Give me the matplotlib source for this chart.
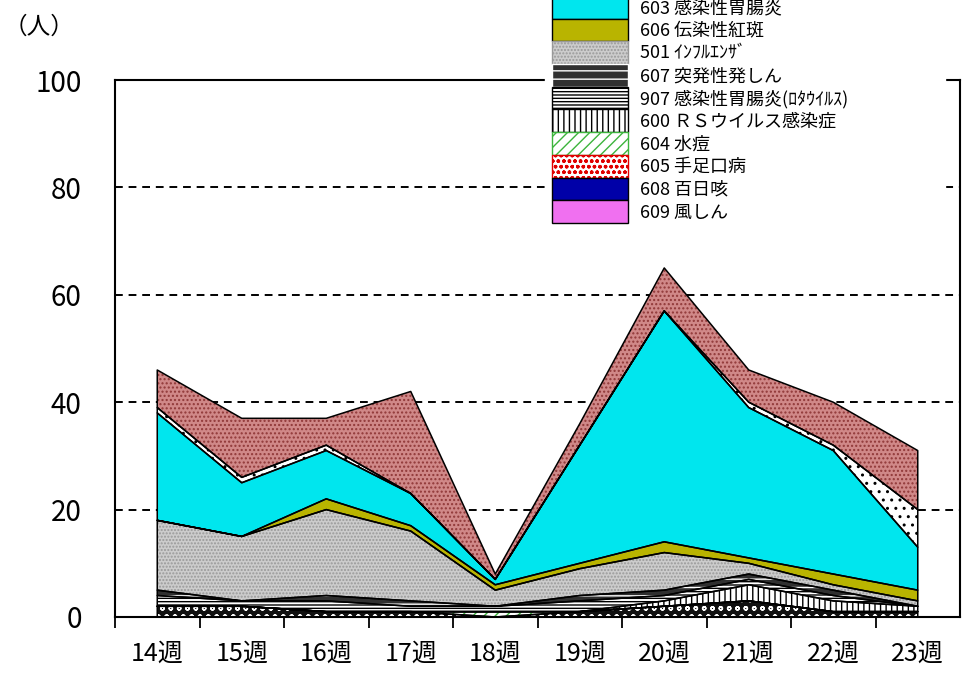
import numpy as np
import matplotlib.pyplot as plt
from matplotlib.patches import Patch

plt.rcParams['font.family'] = ['Noto Sans CJK JP', 'DejaVu Sans']
plt.rcParams['hatch.linewidth'] = 1.0

# 週ごとの報告数（人）
weeks = ['14週', '15週', '16週', '17週', '18週', '19週', '20週', '21週', '22週', '23週']

s609 = [0, 0, 0, 0, 0, 0, 0, 0, 0, 0]          # 風しん
s608 = [0, 0, 0, 0, 0, 0, 0, 0, 0, 0]          # 百日咳
s605 = [2, 2, 1, 1, 0, 1, 2, 3, 1, 1]          # 手足口病
s604 = [0, 0, 0, 0, 1, 0, 0, 0, 0, 0]          # 水痘
s600 = [0, 0, 0, 0, 0, 0, 1, 3, 2, 1]          # RSウイルス感染症
s907 = [2, 1, 2, 1, 1, 2, 1, 1, 1, 0]          # 感染性胃腸炎(ロタ)
s607 = [1, 0, 1, 1, 0, 1, 1, 1, 1, 0]          # 突発性発しん
s501 = [13, 12, 16, 13, 3, 5, 7, 2, 1, 1]      # インフルエンザ
s606 = [0, 0, 2, 1, 1, 1, 2, 1, 2, 2]          # 伝染性紅斑
s603 = [20, 10, 9, 6, 1, 22, 43, 28, 23, 8]    # 感染性胃腸炎
s610 = [1, 1, 1, 0, 0, 0, 0, 1, 1, 7]          # 凡例の見えない系列（白地に点）
s602 = [7, 11, 5, 19, 1, 4, 8, 6, 8, 11]       # 凡例の見えない系列（赤茶）

# 下から積み上げる順 (名前, 値, 塗り, ハッチ, ハッチ色, 凡例に出すか)
series = [
    ('609 風しん', s609, '#f070f0', None, '#f070f0', True),
    ('608 百日咳', s608, '#0000a8', None, '#0000a8', True),
    ('605 手足口病', s605, '#101010', 'oo', 'white', True),
    ('604 水痘', s604, 'white', '///', '#3cb43c', True),
    ('600 ＲＳウイルス感染症', s600, 'white', '|||', 'black', True),
    ('907 感染性胃腸炎(ﾛﾀｳｲﾙｽ)', s907, 'white', '-----', 'black', True),
    ('607 突発性発しん', s607, '#303030', '--', 'white', True),
    ('501 ｲﾝﾌﾙｴﾝｻﾞ', s501, '#cccccc', '.....', '#999999', True),
    ('606 伝染性紅斑', s606, '#b9b400', None, '#b9b400', True),
    ('603 感染性胃腸炎', s603, '#00e6ee', None, '#00e6ee', True),
    ('610', s610, 'white', '..', 'black', False),
    ('602', s602, '#d08888', '....', '#903838', False),
]

fig = plt.figure(figsize=(9.7, 6.75), dpi=100)
ax = fig.add_axes([115 / 970, 58 / 675, (960 - 115) / 970, (617 - 80) / 675])

x = np.arange(len(weeks))
base = np.zeros(len(weeks))
for name, vals, fc, hatch, hc, show in series:
    top = base + np.array(vals, dtype=float)
    ax.fill_between(x, base, top, facecolor=fc, hatch=hatch, edgecolor=hc, linewidth=0, zorder=2)
    ax.fill_between(x, base, top, facecolor='none', edgecolor='black', linewidth=1.1, zorder=3)
    base = top

ax.set_xlim(-0.5, 9.5)
ax.set_ylim(0, 100)

ax.set_xticks(np.arange(-0.5, 9, 1.0))
ax.set_xticklabels([])
ax.set_xticks(x, minor=True)
ax.set_xticklabels(weeks, minor=True, fontsize=18)
ax.tick_params(axis='x', which='major', length=8, width=1.3, direction='out')
ax.tick_params(axis='x', which='minor', length=0, pad=17)

ax.set_yticks(range(0, 101, 20))
ax.tick_params(axis='y', length=0, pad=24, labelsize=20)

ax.set_axisbelow(True)
ax.yaxis.grid(True, linestyle=(0, (4, 3)), color='black', linewidth=1.4)

for sp in ax.spines.values():
    sp.set_linewidth(1.5)
    sp.set_color('black')

fig.text(4 / 970, 1 - 27 / 675, '（人）', fontsize=17, ha='left', va='center')

# 凡例（上が積み上げの上）
handles = []
labels = []
for name, vals, fc, hatch, hc, show in reversed(series):
    if not show:
        continue
    if name.startswith('605'):
        handles.append(Patch(facecolor='white', hatch='ooo', edgecolor='#e00000'))
    elif hatch is None:
        handles.append(Patch(facecolor=fc, edgecolor='black', linewidth=1.0))
    else:
        handles.append(Patch(facecolor=fc, hatch=hatch, edgecolor=hc, linewidth=1.0))
    labels.append(name)

fig.legend(handles, labels, loc='lower left',
           bbox_to_anchor=(545 / 970, (675 - 230) / 675, (945 - 545) / 970, 0.3),
           bbox_transform=fig.transFigure, mode='expand', ncol=1,
           frameon=True, fancybox=False, edgecolor='white', facecolor='white',
           framealpha=1, borderpad=0.39, labelspacing=0, handlelength=4.21,
           handleheight=1.557, handletextpad=0.66, fontsize=13, borderaxespad=0)

fig.savefig('out.png', dpi=100)
